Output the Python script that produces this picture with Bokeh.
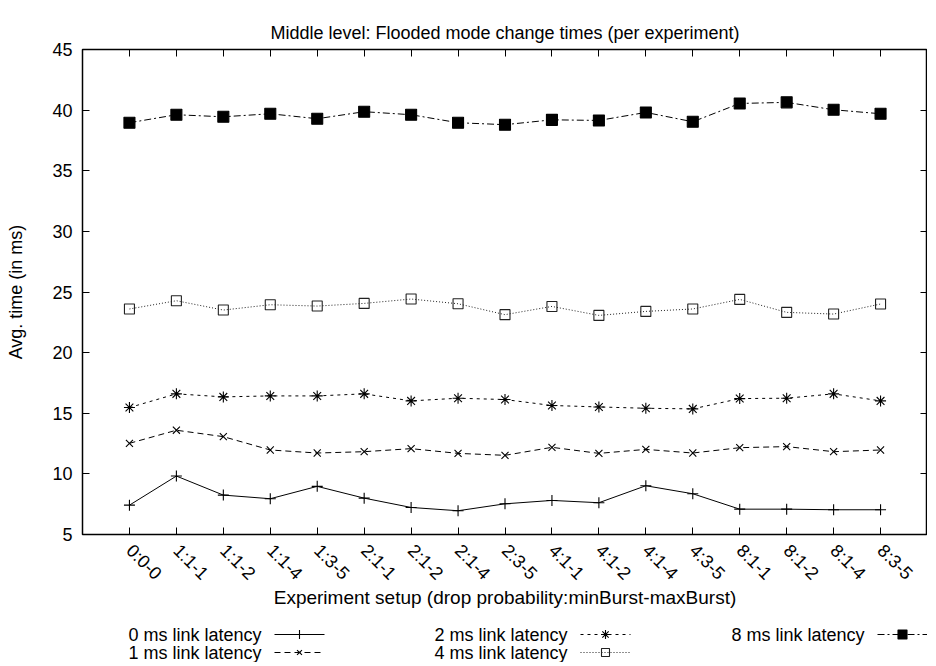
import math
from bokeh.plotting import figure
from bokeh.layouts import column
from bokeh.models import (FactorRange, Range1d, LinearAxis, CategoricalAxis,
                          FixedTicker, ColumnDataSource)
from bokeh.core.properties import value
from bokeh.embed import file_html
from bokeh.resources import INLINE

# ---- data -------------------------------------------------------------
setups = ["0:0-0", "1:1-1", "1:1-2", "1:1-4", "1:3-5", "2:1-1", "2:1-2", "2:1-4",
          "2:3-5", "4:1-1", "4:1-2", "4:1-4", "4:3-5", "8:1-1", "8:1-2", "8:1-4", "8:3-5"]
lat0 = [7.42, 9.82, 8.25, 7.95, 8.97, 8.00, 7.23, 6.96, 7.53, 7.81, 7.62, 9.02, 8.36, 7.09, 7.09, 7.04, 7.04]
lat1 = [12.52, 13.60, 13.07, 11.97, 11.72, 11.83, 12.08, 11.69, 11.53, 12.19, 11.69, 12.02, 11.72, 12.16, 12.25, 11.83, 11.97]
lat2 = [15.47, 16.60, 16.35, 16.43, 16.43, 16.60, 16.02, 16.24, 16.13, 15.64, 15.52, 15.41, 15.36, 16.21, 16.24, 16.60, 16.02]
lat4 = [23.60, 24.28, 23.51, 23.95, 23.84, 24.06, 24.42, 24.03, 23.13, 23.81, 23.07, 23.40, 23.60, 24.39, 23.32, 23.18, 24.01]
lat8 = [38.96, 39.62, 39.45, 39.70, 39.29, 39.87, 39.62, 38.96, 38.80, 39.20, 39.15, 39.81, 39.04, 40.55, 40.64, 40.03, 39.70]
series_values = [lat0, lat1, lat2, lat4, lat8]
series_labels = ["0 ms link latency", "1 ms link latency", "2 ms link latency",
                 "4 ms link latency", "8 ms link latency"]
y_ticks = [5, 10, 15, 20, 25, 30, 35, 40, 45]

FONT = "Liberation Sans"
FS = "18px"

# style of each series: (line dash, line colour, marker, marker size, fill)
styles = [
    ("solid", "black", "cross", 11, None),
    ("6 4", "black", "x", 10, None),
    ("3 4", "black", "asterisk", 11, None),
    ("1 2", "#222222", "square", 10, None),
    ("7 3 2 3", "black", "square", 11, "black"),
]

LEFT_B, FRAME_W, FRAME_H = 82, 845, 485

p = figure(frame_width=FRAME_W, frame_height=FRAME_H,
           x_range=FactorRange(factors=setups, range_padding=0.5, range_padding_units="absolute"),
           y_range=Range1d(5, 45),
           output_backend="svg", toolbar_location=None,
           title="Middle level: Flooded mode change times (per experiment)",
           min_border_left=LEFT_B, min_border_right=0, min_border_top=49, min_border_bottom=78)

p.background_fill_color = "white"
p.border_fill_color = "white"
p.outline_line_color = "black"
p.outline_line_width = 1.5
p.grid.visible = False

p.title.align = "center"
p.title.text_font = FONT
p.title.text_font_size = FS
p.title.text_font_style = "normal"
p.title.text_color = "black"
p.title.standoff = 13

# bottom axis
xa = p.xaxis[0]
xa.axis_label = "Experiment setup (drop probability:minBurst-maxBurst)"
xa.major_label_orientation = -math.pi / 4
xa.major_label_standoff = 13
xa.axis_label_standoff = -7

# left axis
ya = p.yaxis[0]
ya.ticker = FixedTicker(ticks=y_ticks)
ya.axis_label = "Avg. time (in ms)"
ya.major_label_standoff = 10
ya.axis_label_standoff = 23

# mirrored tick marks on top and right (blank labels)
top = CategoricalAxis(major_label_overrides={f: " " for f in setups})
p.add_layout(top, "above")
right = LinearAxis(ticker=FixedTicker(ticks=y_ticks),
                   major_label_overrides={t: " " for t in y_ticks})
p.add_layout(right, "right")

for ax in [xa, ya, top, right]:
    ax.axis_line_color = None
    ax.major_tick_in = 7
    ax.major_tick_out = 0
    ax.major_tick_line_color = "black"
    ax.major_tick_line_width = 1
    ax.major_label_text_font = FONT
    ax.major_label_text_font_size = FS
    ax.major_label_text_color = "black"
    ax.axis_label_text_font = FONT
    ax.axis_label_text_font_size = FS
    ax.axis_label_text_font_style = "normal"
    ax.axis_label_text_color = "black"
xa.axis_label_text_font_size = "19px"
for ax in [ya, right]:
    ax.minor_tick_line_color = None
for ax in [top, right]:
    ax.major_label_text_font_size = "1px"
    ax.major_label_text_alpha = 0
right.major_label_standoff = 0
top.major_label_standoff = 10     # leaves room between frame and title

# ---- series ------------------------------------------------------------
for vals, (dash, col, mk, sz, fill) in zip(series_values, styles):
    p.line(setups, vals, line_color=col, line_width=1, line_dash=dash)
    p.scatter(setups, vals, marker=mk, size=sz, line_color=col,
              fill_color=fill, line_width=1.1)

# ---- key strip below (gnuplot style: text, then sample line) ---------------
# the strip's frame lines up with the main frame, so its x range is given in
# the same horizontal pixel positions as the main frame occupies
KEY_H = 50
FR_L = 1 + LEFT_B
leg = figure(width=LEFT_B + FRAME_W, height=KEY_H, x_range=Range1d(FR_L, FR_L + FRAME_W),
             y_range=Range1d(KEY_H, 0),
             output_backend="svg", toolbar_location=None,
             x_axis_location=None, y_axis_location=None, min_border=0)
leg.outline_line_color = None
leg.grid.visible = False
leg.background_fill_color = "white"
leg.border_fill_color = "white"

SAMPLE_W = 50
TEXT_GAP = 13
col_x = [275, 581, 878]          # left end of the sample line in each key column
row_y = [22, 40]                 # key rows
slots = [(0, 0), (0, 1), (1, 0), (1, 1), (2, 0)]
key_marker_size = [9, 7, 9, 8, 9]

kx, ky = [], []
for i, (c, r) in enumerate(slots):
    dash, col, mk, sz, fill = styles[i]
    x0, y0 = col_x[c], row_y[r]
    kx.append(x0 - TEXT_GAP)
    ky.append(y0)
    leg.line([x0, x0 + SAMPLE_W], [y0, y0], line_color=col, line_width=1, line_dash=dash)
    leg.scatter([x0 + SAMPLE_W / 2], [y0], marker=mk, size=key_marker_size[i],
                line_color=col, fill_color=fill, line_width=1.1)

key_src = ColumnDataSource(dict(x=kx, y=ky, text=series_labels))
leg.text(x="x", y="y", text="text", source=key_src, text_align="right",
         text_baseline="middle", text_font=value(FONT), text_font_size=FS,
         text_color="black")

open("out.html", "w").write(file_html(column(p, leg), INLINE))
